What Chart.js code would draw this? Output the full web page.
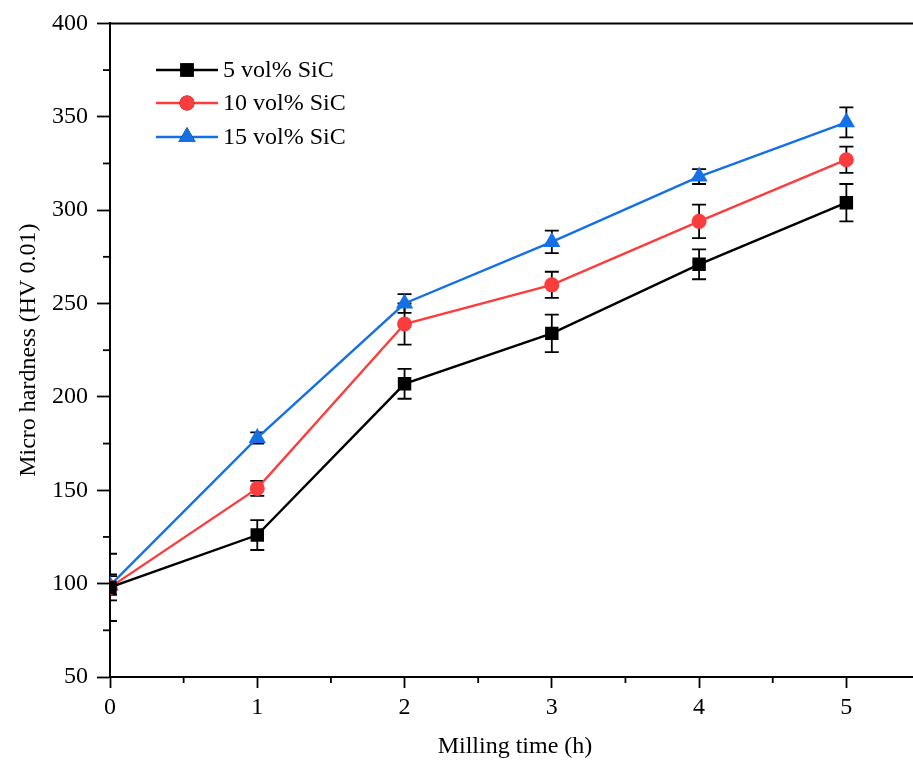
<!DOCTYPE html>
<html>
<head>
<meta charset="utf-8">
<script src="https://cdn.jsdelivr.net/npm/chart.js"></script>
<style>
  html, body { margin: 0; padding: 0; background: #fff; overflow: hidden; }
  #wrap { width: 930px; height: 764px; }
</style>
</head>
<body>
<div id="wrap"><canvas id="chart"></canvas></div>
<script>
// milling time (h)
const hours = [0, 1, 2, 3, 4, 5];

// micro hardness HV 0.01 and error bars
const sic5 = [98, 126, 207, 234, 271, 304];
const sic5Err = [18, 8, 8, 10, 8, 10];
const sic10 = [98, 151, 239, 260, 294, 327];
const sic10Err = [7, 4, 11, 7, 9, 7];
const sic15 = [99, 178, 250, 283, 318, 347];
const sic15Err = [5, 3, 5, 6, 4, 8];

const seriesLabels = ["5 vol% SiC", "10 vol% SiC", "15 vol% SiC"];
const yMinorTicks = [75, 125, 175, 225, 275, 325, 375];
const xMinorTicks = [0.5, 1.5, 2.5, 3.5, 4.5, 5.5];

const FONT = "'Liberation Serif', 'Times New Roman', serif";
const FONT_SIZE = 24;

function toPoints(ys) {
    return hours.map((h, i) => ({ x: h, y: ys[i] }));
}

const errors = [sic5Err, sic10Err, sic15Err];

// error bars, drawn under the markers
const errorBars = {
    id: "errorBars",
    beforeDatasetsDraw(chart) {
        const { ctx, chartArea, scales } = chart;
        ctx.save();
        ctx.beginPath();
        ctx.rect(chartArea.left, chartArea.top, chartArea.right - chartArea.left, chartArea.bottom - chartArea.top);
        ctx.clip();
        ctx.strokeStyle = "#000";
        ctx.lineWidth = 1.8;
        chart.data.datasets.forEach((ds, d) => {
            ds.data.forEach((p, i) => {
                const e = errors[d][i];
                const x = scales.x.getPixelForValue(p.x);
                const y1 = scales.y.getPixelForValue(p.y + e);
                const y2 = scales.y.getPixelForValue(p.y - e);
                ctx.beginPath();
                ctx.moveTo(x, y1); ctx.lineTo(x, y2);
                ctx.moveTo(x - 7, y1); ctx.lineTo(x + 7, y1);
                ctx.moveTo(x - 7, y2); ctx.lineTo(x + 7, y2);
                ctx.stroke();
            });
        });
        ctx.restore();
    }
};

// frame top line, minor ticks and the legend inside the plot
const extras = {
    id: "extras",
    afterDraw(chart) {
        const { ctx, chartArea, scales } = chart;
        ctx.save();
        ctx.strokeStyle = "#000";
        ctx.lineWidth = 2;
        ctx.beginPath();
        ctx.moveTo(chartArea.left - 1, chartArea.top);
        ctx.lineTo(chart.width, chartArea.top);
        ctx.stroke();

        ctx.lineWidth = 1.8;
        yMinorTicks.forEach(v => {
            const y = scales.y.getPixelForValue(v);
            ctx.beginPath();
            ctx.moveTo(chartArea.left - 7, y);
            ctx.lineTo(chartArea.left, y);
            ctx.stroke();
        });
        xMinorTicks.forEach(v => {
            const x = scales.x.getPixelForValue(v);
            ctx.beginPath();
            ctx.moveTo(x, chartArea.bottom);
            ctx.lineTo(x, chartArea.bottom + 6);
            ctx.stroke();
        });

        // legend
        const rows = [70, 103, 137];
        chart.data.datasets.forEach((ds, i) => {
            const y = rows[i];
            ctx.strokeStyle = ds.borderColor;
            ctx.lineWidth = 2.4;
            ctx.beginPath();
            ctx.moveTo(156, y);
            ctx.lineTo(218, y);
            ctx.stroke();
            Chart.helpers.drawPoint(ctx, {
                pointStyle: ds.pointStyle,
                radius: ds.pointRadius,
                borderWidth: 0
            }, 187, y);
            ctx.fillStyle = ds.backgroundColor;
            ctx.fill();
            ctx.fillStyle = "#000";
            ctx.font = FONT_SIZE + "px " + FONT;
            ctx.textBaseline = "middle";
            ctx.textAlign = "left";
            ctx.fillText(ds.label, 223, y + 1);
        });
        ctx.restore();
    }
};

new Chart(document.getElementById("chart"), {
    type: "scatter",
    data: {
        datasets: [
            {
                label: seriesLabels[0],
                data: toPoints(sic5),
                borderColor: "#000000",
                backgroundColor: "#000000",
                pointStyle: "rect",
                pointRadius: 9.5
            },
            {
                label: seriesLabels[1],
                data: toPoints(sic10),
                borderColor: "#fb3d3d",
                backgroundColor: "#fb3d3d",
                pointStyle: "circle",
                pointRadius: 7.5
            },
            {
                label: seriesLabels[2],
                data: toPoints(sic15),
                borderColor: "#1570e6",
                backgroundColor: "#1570e6",
                pointStyle: "triangle",
                pointRadius: 10
            }
        ].map(ds => Object.assign(ds, {
            showLine: true,
            borderWidth: 2.4,
            pointBorderWidth: 0,
            pointHoverRadius: ds.pointRadius,
            clip: 0
        }))
    },
    plugins: [errorBars, extras],
    options: {
        responsive: true,
        maintainAspectRatio: false,
        animation: false,
        layout: { padding: { left: 0, top: 22, right: 9, bottom: 0 } },
        plugins: {
            legend: { display: false },
            tooltip: { enabled: false }
        },
        scales: {
            x: {
                type: "linear",
                min: 0,
                max: 5.5,
                afterFit(scale) { scale.height = 87; },
                border: { display: true, color: "#000", width: 2 },
                grid: { display: true, drawOnChartArea: false, color: "#000", tickLength: 11, tickWidth: 1.8 },
                ticks: {
                    stepSize: 1,
                    includeBounds: false,
                    color: "#000",
                    padding: 5,
                    font: { family: FONT, size: FONT_SIZE }
                },
                title: {
                    display: true,
                    text: "Milling time (h)",
                    color: "#000",
                    font: { family: FONT, size: FONT_SIZE },
                    padding: { top: 0, bottom: 3 }
                }
            },
            y: {
                min: 50,
                max: 400,
                afterFit(scale) { scale.width = 110; },
                border: { display: true, color: "#000", width: 2 },
                grid: { display: true, drawOnChartArea: false, color: "#000", tickLength: 13, tickWidth: 1.8 },
                ticks: {
                    stepSize: 50,
                    color: "#000",
                    padding: 9,
                    font: { family: FONT, size: FONT_SIZE }
                },
                title: {
                    display: true,
                    text: "Micro hardness (HV 0.01)",
                    color: "#000",
                    font: { family: FONT, size: FONT_SIZE },
                    padding: { top: 14, bottom: 0 }
                }
            }
        }
    }
});
</script>
</body>
</html>
